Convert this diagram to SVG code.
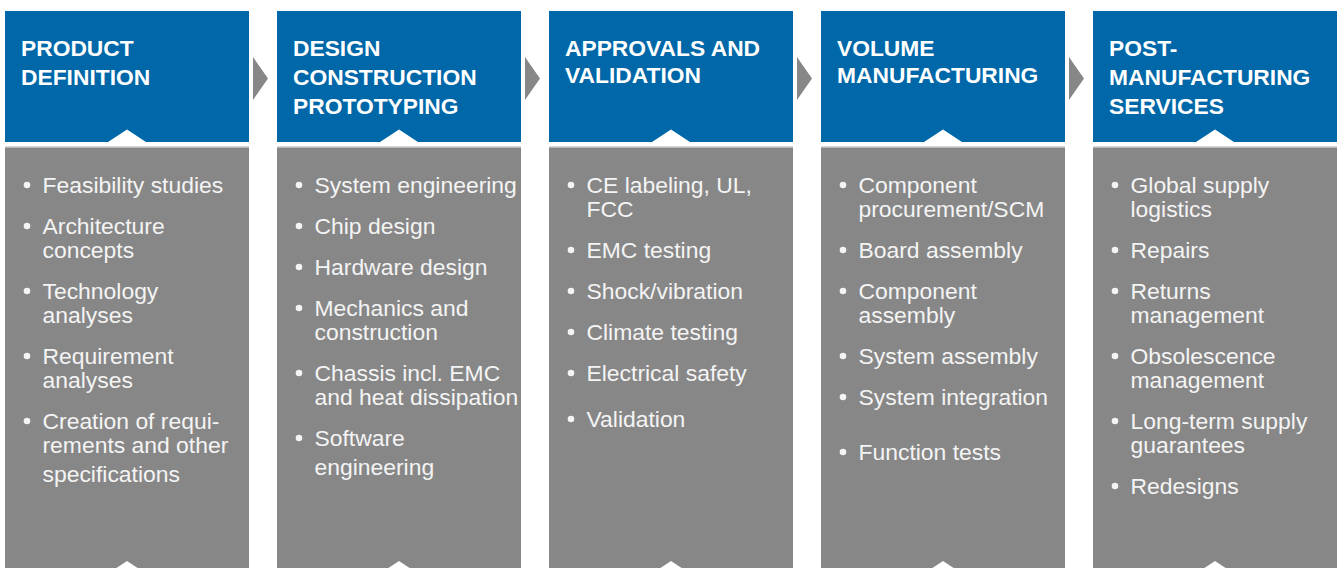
<svg xmlns="http://www.w3.org/2000/svg" width="1341" height="568" viewBox="0 0 1341 568">
<style>
.hd{fill:#0067a8}
.bd{fill:#878787}
.sep{fill:#d6d6d6}
.notch{fill:#ffffff}
.arr{fill:#878787}
.ht{font-family:"Liberation Sans",Arial,sans-serif;font-weight:bold;font-size:22.8px;fill:#ffffff}
.bt{font-family:"Liberation Sans",Arial,sans-serif;font-size:22.9px;fill:#f4f4f4}
.dot{fill:#f4f4f4}
</style>
<defs>
<g id="col">
<rect class="hd" x="0" y="11" width="244" height="131"/>
<polygon class="notch" points="103,142 122,129.5 141,142"/>
<rect class="sep" x="0" y="146" width="244" height="1.5"/>
<rect class="bd" x="0" y="147.5" width="244" height="421"/>
<polygon class="notch" points="103,573.5 122,561 141,573.5"/>
</g>
</defs>
<rect width="1341" height="568" fill="#ffffff"/>
<g id="connectors">
<polygon class="arr" points="253,57 268,78.5 253,100"/>
<polygon class="arr" points="525,57 540,78.5 525,100"/>
<polygon class="arr" points="797,57 812,78.5 797,100"/>
<polygon class="arr" points="1069,57 1084,78.5 1069,100"/>
</g>
<g id="product-definition" transform="translate(5,0)">
<use href="#col"/>
<text class="ht" x="16" y="56">PRODUCT</text>
<text class="ht" x="16" y="85">DEFINITION</text>
<circle class="dot" cx="22" cy="185" r="3.3"/><text class="bt" x="37.5" y="193">Feasibility studies</text>
<circle class="dot" cx="22" cy="226" r="3.3"/><text class="bt" x="37.5" y="234">Architecture</text><text class="bt" x="37.5" y="258">concepts</text>
<circle class="dot" cx="22" cy="291" r="3.3"/><text class="bt" x="37.5" y="299">Technology</text><text class="bt" x="37.5" y="323">analyses</text>
<circle class="dot" cx="22" cy="356" r="3.3"/><text class="bt" x="37.5" y="364">Requirement</text><text class="bt" x="37.5" y="388">analyses</text>
<circle class="dot" cx="22" cy="421" r="3.3"/><text class="bt" x="37.5" y="429">Creation of requi-</text><text class="bt" x="37.5" y="453">rements and other</text><text class="bt" x="37.5" y="482">specifications</text>
</g>
<g id="design-construction-prototyping" transform="translate(277,0)">
<use href="#col"/>
<text class="ht" x="16" y="56">DESIGN</text>
<text class="ht" x="16" y="85">CONSTRUCTION</text>
<text class="ht" x="16" y="114">PROTOTYPING</text>
<circle class="dot" cx="22" cy="185" r="3.3"/><text class="bt" x="37.5" y="193">System engineering</text>
<circle class="dot" cx="22" cy="226" r="3.3"/><text class="bt" x="37.5" y="234">Chip design</text>
<circle class="dot" cx="22" cy="267" r="3.3"/><text class="bt" x="37.5" y="275">Hardware design</text>
<circle class="dot" cx="22" cy="308" r="3.3"/><text class="bt" x="37.5" y="316">Mechanics and</text><text class="bt" x="37.5" y="340">construction</text>
<circle class="dot" cx="22" cy="373" r="3.3"/><text class="bt" x="37.5" y="381">Chassis incl. EMC</text><text class="bt" x="37.5" y="405">and heat dissipation</text>
<circle class="dot" cx="22" cy="438" r="3.3"/><text class="bt" x="37.5" y="446">Software</text><text class="bt" x="37.5" y="475">engineering</text>
</g>
<g id="approvals-validation" transform="translate(549,0)">
<use href="#col"/>
<text class="ht" x="16" y="56">APPROVALS AND</text>
<text class="ht" x="16" y="83">VALIDATION</text>
<circle class="dot" cx="22" cy="185" r="3.3"/><text class="bt" x="37.5" y="193">CE labeling, UL,</text><text class="bt" x="37.5" y="217">FCC</text>
<circle class="dot" cx="22" cy="250" r="3.3"/><text class="bt" x="37.5" y="258">EMC testing</text>
<circle class="dot" cx="22" cy="291" r="3.3"/><text class="bt" x="37.5" y="299">Shock/vibration</text>
<circle class="dot" cx="22" cy="332" r="3.3"/><text class="bt" x="37.5" y="340">Climate testing</text>
<circle class="dot" cx="22" cy="373" r="3.3"/><text class="bt" x="37.5" y="381">Electrical safety</text>
<circle class="dot" cx="22" cy="419" r="3.3"/><text class="bt" x="37.5" y="427">Validation</text>
</g>
<g id="volume-manufacturing" transform="translate(821,0)">
<use href="#col"/>
<text class="ht" x="16" y="56">VOLUME</text>
<text class="ht" x="16" y="83">MANUFACTURING</text>
<circle class="dot" cx="22" cy="185" r="3.3"/><text class="bt" x="37.5" y="193">Component</text><text class="bt" x="37.5" y="217">procurement/SCM</text>
<circle class="dot" cx="22" cy="250" r="3.3"/><text class="bt" x="37.5" y="258">Board assembly</text>
<circle class="dot" cx="22" cy="291" r="3.3"/><text class="bt" x="37.5" y="299">Component</text><text class="bt" x="37.5" y="323">assembly</text>
<circle class="dot" cx="22" cy="356" r="3.3"/><text class="bt" x="37.5" y="364">System assembly</text>
<circle class="dot" cx="22" cy="397" r="3.3"/><text class="bt" x="37.5" y="405">System integration</text>
<circle class="dot" cx="22" cy="452" r="3.3"/><text class="bt" x="37.5" y="460">Function tests</text>
</g>
<g id="post-manufacturing-services" transform="translate(1093,0)">
<use href="#col"/>
<text class="ht" x="16" y="56">POST-</text>
<text class="ht" x="16" y="85">MANUFACTURING</text>
<text class="ht" x="16" y="114">SERVICES</text>
<circle class="dot" cx="22" cy="185" r="3.3"/><text class="bt" x="37.5" y="193">Global supply</text><text class="bt" x="37.5" y="217">logistics</text>
<circle class="dot" cx="22" cy="250" r="3.3"/><text class="bt" x="37.5" y="258">Repairs</text>
<circle class="dot" cx="22" cy="291" r="3.3"/><text class="bt" x="37.5" y="299">Returns</text><text class="bt" x="37.5" y="323">management</text>
<circle class="dot" cx="22" cy="356" r="3.3"/><text class="bt" x="37.5" y="364">Obsolescence</text><text class="bt" x="37.5" y="388">management</text>
<circle class="dot" cx="22" cy="421" r="3.3"/><text class="bt" x="37.5" y="429">Long-term supply</text><text class="bt" x="37.5" y="453">guarantees</text>
<circle class="dot" cx="22" cy="486" r="3.3"/><text class="bt" x="37.5" y="494">Redesigns</text>
</g>
</svg>
